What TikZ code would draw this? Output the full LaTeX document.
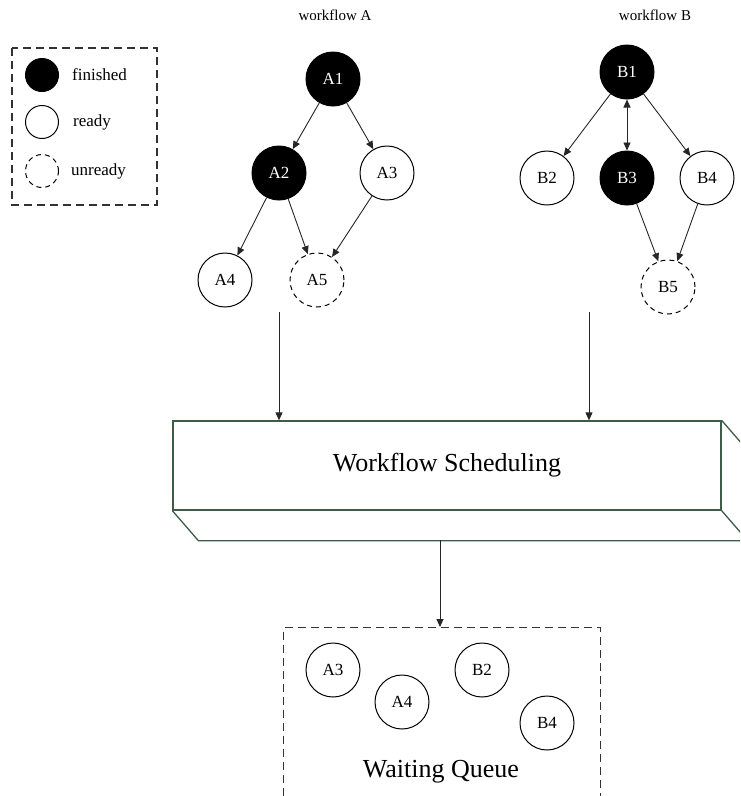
\documentclass[tikz,border=0pt]{standalone}
\usepackage{fontspec}
\setmainfont{Liberation Serif}
\usetikzlibrary{arrows.meta,calc}
\definecolor{frameline}{RGB}{62,92,72}
\definecolor{dashline}{RGB}{50,50,50}
\begin{document}
\begin{tikzpicture}[x=1pt,y=-1pt,
  task/.style={circle,draw=black,line width=1pt,minimum size=54pt,inner sep=0pt,
    font=\fontsize{17}{19}\selectfont},
  done/.style={task,fill=black,text=white},
  todo/.style={task,fill=white},
  wait/.style={task,fill=white,dash pattern=on 5pt off 4pt},
  keybase/.style={circle,draw=black,line width=1pt,minimum size=33pt,inner sep=0pt},
  keytext/.style={anchor=west,inner sep=0pt,font=\fontsize{17}{19}\selectfont},
  title/.style={font=\fontsize{15}{17}\selectfont},
  bigtext/.style={font=\fontsize{26}{28}\selectfont},
  arrowhead/.style={Triangle[length=8pt,width=7pt]},
  edge/.style={draw=black!85,line width=0.9pt,-{Triangle[length=8pt,width=7pt]}},
  frame/.style={draw=frameline,line width=1.3pt},
  dashbox/.style={draw=dashline,line width=1.2pt,dash pattern=on 8pt off 5pt}
]
\clip (0,0) rectangle (740,796);
\fill[white] (0,0) rectangle (740,796);

% legend
\draw[dashbox] (12,48) rectangle (157,205);
\node[keybase,fill=black] (kdone) at (42,75) {};
\node[keybase] (kready) at (42,122) {};
\node[keybase,dash pattern=on 5pt off 4pt] (kwait) at (42,171) {};
\node[keytext] (tdone) at (72,75) {finished};
\node[keytext] (tready) at (73,122) {ready};
\node[keytext] (twait) at (71,171) {unready};

% workflow A
\node[title] (wa) at (335,15) {workflow A};
\node[done] (A1) at (333,79) {A1};
\node[done] (A2) at (279,173) {A2};
\node[todo] (A3) at (387,173) {A3};
\node[todo] (A4) at (225,280) {A4};
\node[wait] (A5) at (317,280) {A5};
\draw[edge] (A1) -- (A2);
\draw[edge] (A1) -- (A3);
\draw[edge] (A2) -- (A4);
\draw[edge] (A2) -- (A5);
\draw[edge] (A3) -- (A5);

% workflow B
\node[title] (wb) at (655,15) {workflow B};
\node[done] (B1) at (627,72) {B1};
\node[todo] (B2) at (547,178) {B2};
\node[done] (B3) at (627,178) {B3};
\node[todo] (B4) at (707,178) {B4};
\node[wait] (B5) at (668,287) {B5};
\draw[edge] (B1) -- (B2);
\draw[edge,{Triangle[length=8pt,width=7pt]}-{Triangle[length=8pt,width=7pt]}] (B1) -- (B3);
\draw[edge] (B1) -- (B4);
\draw[edge] (B3) -- (B5);
\draw[edge] (B4) -- (B5);

% scheduling block with its depth faces
\node[frame,fill=white,minimum width=548pt,minimum height=89pt,inner sep=0pt,bigtext]
  (sched) at (447,465.5) {Workflow Scheduling};
\draw[frame,line join=round] (sched.south west) -- ($(sched.south west)+(26,30)$)
  -- ($(sched.south east)+(26,30)$) -- (sched.south east);
\draw[frame,line join=round] ($(sched.south east)+(26,30)$)
  -- ($(sched.north east)+(26,30)$) -- (sched.north east);

\coordinate (fa) at (279,312);
\coordinate (fb) at (589,312);
\draw[edge] (fa) -- (fa |- sched.north);
\draw[edge] (fb) -- (fb |- sched.north);

% waiting queue
\node[dashbox,minimum width=317pt,minimum height=220pt,inner sep=0pt,anchor=north west]
  (queue) at (283,627) {};
\coordinate (sb) at (440,540);
\draw[edge] (sb) -- (sb |- queue.north);
\node[todo] (qA3) at (333,670) {A3};
\node[todo] (qA4) at (402,702) {A4};
\node[todo] (qB2) at (482,670) {B2};
\node[todo] (qB4) at (547,723) {B4};
\node[bigtext] (qt) at (441,772) {Waiting Queue};
\end{tikzpicture}
\end{document}
